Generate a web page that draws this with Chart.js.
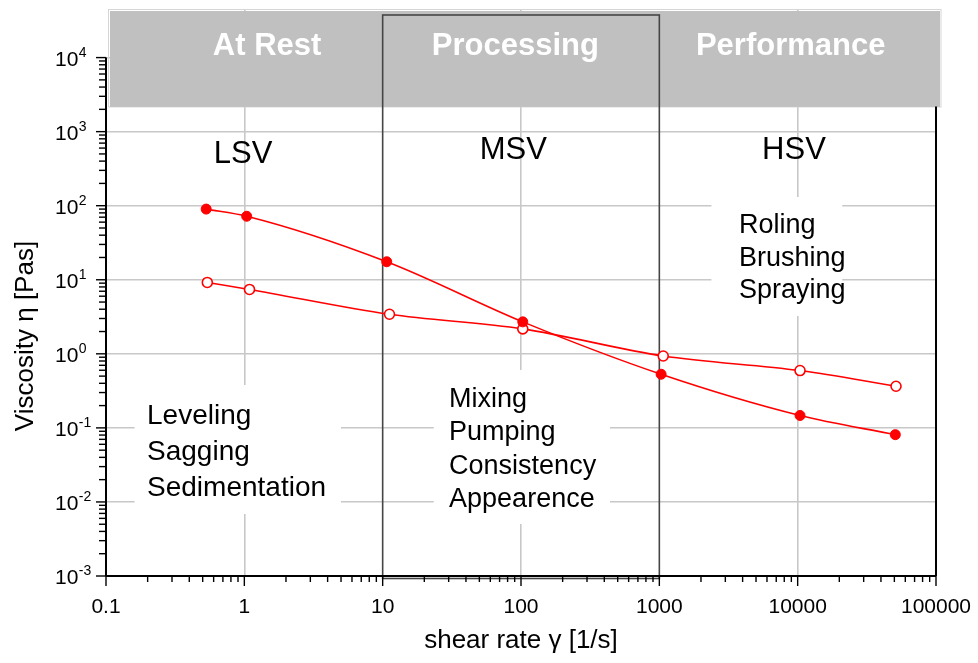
<!DOCTYPE html>
<html>
<head>
<meta charset="utf-8">
<title>Viscosity vs shear rate</title>
<script src="https://cdn.jsdelivr.net/npm/chart.js@4/dist/chart.umd.min.js"></script>
<style>
  html, body { margin: 0; padding: 0; background: #ffffff; }
  #c { display: block; }
</style>
</head>
<body>
<canvas id="c" width="978" height="663"></canvas>
<script>
// Flow curves: viscosity [Pas] against shear rate [1/s]
const shearRateFilled = [0.53, 1.04, 10.7, 103, 1030, 10400, 50800];
const viscosityFilled = [90, 72, 17.5, 2.7, 0.53, 0.147, 0.081];
const shearRateOpen   = [0.54, 1.09, 11.2, 103, 1067, 10400, 51400];
const viscosityOpen   = [9.2, 7.4, 3.42, 2.17, 0.935, 0.594, 0.365];

// Axis labelling
const xTickValues = [0.1, 1, 10, 100, 1000, 10000, 100000];
const xTickLabels = ['0.1', '1', '10', '100', '1000', '10000', '100000'];
const yExponents  = [-3, -2, -1, 0, 1, 2, 3, 4];
const xGridValues = [1, 100, 10000];
const xTitle = 'shear rate \u03B3 [1/s]';
const yTitle = 'Viscosity \u03B7 [Pas]';

// Annotation texts
const phaseLabels  = ['At Rest', 'Processing', 'Performance'];
const regimeLabels = ['LSV', 'MSV', 'HSV'];
const restUses     = ['Leveling', 'Sagging', 'Sedimentation'];
const processUses  = ['Mixing', 'Pumping', 'Consistency', 'Appearence'];
const serviceUses  = ['Roling', 'Brushing', 'Spraying'];

const FONT = '"Liberation Sans", Arial, Helvetica, sans-serif';
const RED = '#ff0000';

const toPoints = (xs, ys) => xs.map((v, i) => ({ x: v, y: ys[i] }));

function line(ctx, x1, y1, x2, y2) {
  ctx.beginPath();
  ctx.moveTo(x1, y1);
  ctx.lineTo(x2, y2);
  ctx.stroke();
}

const decorations = {
  id: 'decorations',
  beforeDraw(chart) {
    const ctx = chart.ctx;
    ctx.save();
    ctx.fillStyle = '#ffffff';
    ctx.fillRect(0, 0, chart.width, chart.height);
    ctx.restore();
  },
  beforeDatasetsDraw(chart) {
    const { ctx, chartArea: a, scales: { x, y } } = chart;
    const bandBottom = y.getPixelForValue(Math.pow(10, 3.34));
    ctx.save();

    // grey header band of the three phases
    ctx.strokeStyle = '#d6d6d6';
    ctx.lineWidth = 1;
    ctx.strokeRect(a.left + 2.5, a.top + 0.5, (a.right + 5) - (a.left + 2.5), bandBottom - a.top);
    ctx.fillStyle = '#c0c0c0';
    ctx.fillRect(a.left + 4, a.top + 2, (a.right + 4) - (a.left + 4), bandBottom - a.top - 1.5);

    // white panels behind the application texts
    ctx.fillStyle = '#ffffff';
    const panel = (x1, x2, y1, y2) => ctx.fillRect(x1, y1, x2 - x1, y2 - y1);
    panel(x.getPixelForValue(0.161), x.getPixelForValue(5.0), 385, 514);
    panel(x.getPixelForValue(23.4), x.getPixelForValue(440), 370, 524);
    panel(x.getPixelForValue(2380), x.getPixelForValue(21000), 197, 316);

    // processing window frame
    const bx1 = x.getPixelForValue(10), bx2 = x.getPixelForValue(1000);
    ctx.strokeStyle = '#454545';
    ctx.lineWidth = 1.6;
    ctx.strokeRect(bx1, a.top + 6, bx2 - bx1, a.bottom + 2.5 - (a.top + 6));

    // axes
    ctx.strokeStyle = '#000000';
    ctx.lineWidth = 2;
    line(ctx, a.left, y.getPixelForValue(1e4), a.left, a.bottom);
    line(ctx, a.left, a.bottom, a.right, a.bottom);
    line(ctx, a.right, bandBottom, a.right, a.bottom);

    // tick marks (decades long, intermediate short)
    ctx.lineWidth = 1.4;
    for (let e = -1; e <= 5; e++) {
      for (let m = 1; m <= 9; m++) {
        const v = m * Math.pow(10, e);
        if (v > 1e5 * 1.0001) break;
        const px = x.getPixelForValue(v);
        line(ctx, px, a.bottom, px, a.bottom + (m === 1 ? 10 : 6));
      }
    }
    for (let e = -3; e <= 4; e++) {
      for (let m = 1; m <= 9; m++) {
        const v = m * Math.pow(10, e);
        if (v > 1e4 * 1.0001) break;
        const py = y.getPixelForValue(v);
        line(ctx, a.left - (m === 1 ? 10 : 7), py, a.left, py);
      }
    }
    ctx.restore();
  },
  afterDatasetsDraw(chart) {
    const { ctx, chartArea: a, scales: { x, y } } = chart;
    ctx.save();
    ctx.textBaseline = 'alphabetic';

    // phase titles in the band
    ctx.fillStyle = '#ffffff';
    ctx.font = 'bold 31px ' + FONT;
    ctx.textAlign = 'center';
    [1.46, 91, 8900].forEach((v, i) => ctx.fillText(phaseLabels[i], x.getPixelForValue(v), a.top + 46));

    // viscosity regimes
    ctx.fillStyle = '#000000';
    ctx.font = '31px ' + FONT;
    ctx.fillText(regimeLabels[0], x.getPixelForValue(0.98), a.top + 154);
    ctx.fillText(regimeLabels[1], x.getPixelForValue(88), a.top + 150);
    ctx.fillText(regimeLabels[2], x.getPixelForValue(9400), a.top + 150);

    // application lists
    ctx.textAlign = 'left';
    ctx.font = '28px ' + FONT;
    restUses.forEach((t, i) => ctx.fillText(t, x.getPixelForValue(0.198), 424 + i * 36));
    ctx.font = '27px ' + FONT;
    processUses.forEach((t, i) => ctx.fillText(t, x.getPixelForValue(30.2), 407 + i * 33.3));
    ctx.font = '27px ' + FONT;
    serviceUses.forEach((t, i) => ctx.fillText(t, x.getPixelForValue(3770), 233 + i * 32.5));

    // x tick labels
    ctx.font = '21px ' + FONT;
    ctx.textAlign = 'center';
    xTickValues.forEach((v, i) => ctx.fillText(xTickLabels[i], x.getPixelForValue(v), a.bottom + 37));

    // y tick labels as powers of ten
    ctx.textAlign = 'left';
    yExponents.forEach(e => {
      const py = y.getPixelForValue(Math.pow(10, e));
      ctx.font = '21px ' + FONT;
      const base = '10';
      const bx = a.left - 51;
      ctx.fillText(base, bx, py + 8);
      const w = ctx.measureText(base).width;
      ctx.font = '14px ' + FONT;
      ctx.fillText(String(e), bx + w + 0.5, py - 1);
    });

    // axis titles
    ctx.font = '26px ' + FONT;
    ctx.textAlign = 'center';
    ctx.fillText(xTitle, (a.left + a.right) / 2, a.bottom + 72);
    ctx.translate(a.left - 73, 336);
    ctx.rotate(-Math.PI / 2);
    ctx.fillText(yTitle, 0, 0);
    ctx.restore();
  }
};

new Chart(document.getElementById('c'), {
  type: 'line',
  data: {
    datasets: [
      {
        label: 'filled',
        data: toPoints(shearRateFilled, viscosityFilled),
        borderColor: RED,
        borderWidth: 1.6,
        backgroundColor: RED,
        pointBackgroundColor: RED,
        pointBorderColor: RED,
        pointBorderWidth: 1,
        pointRadius: 5,
        cubicInterpolationMode: 'monotone',
        fill: false
      },
      {
        label: 'open',
        data: toPoints(shearRateOpen, viscosityOpen),
        borderColor: RED,
        borderWidth: 1.6,
        backgroundColor: '#ffffff',
        pointBackgroundColor: '#ffffff',
        pointBorderColor: RED,
        pointBorderWidth: 1.6,
        pointRadius: 5,
        cubicInterpolationMode: 'monotone',
        fill: false
      }
    ]
  },
  options: {
    responsive: false,
    animation: false,
    devicePixelRatio: 1,
    layout: { padding: { left: 106, right: 42, top: 9, bottom: 87 } },
    plugins: { legend: { display: false }, tooltip: { enabled: false } },
    scales: {
      x: {
        type: 'logarithmic',
        min: 0.1,
        max: 100000,
        afterBuildTicks: s => { s.ticks = xGridValues.map(v => ({ value: v })); },
        afterFit: s => { s.height = 0; },
        ticks: { display: false },
        grid: { color: '#c8c8c8', lineWidth: 1.6, drawTicks: false },
        border: { display: false }
      },
      y: {
        type: 'logarithmic',
        min: 0.001,
        max: Math.pow(10, 4.656),
        afterBuildTicks: s => { s.ticks = yExponents.map(e => ({ value: Math.pow(10, e) })); },
        afterFit: s => { s.width = 0; },
        ticks: { display: false },
        grid: { color: '#c8c8c8', lineWidth: 1.6, drawTicks: false },
        border: { display: false }
      }
    }
  },
  plugins: [decorations]
});
</script>
</body>
</html>
